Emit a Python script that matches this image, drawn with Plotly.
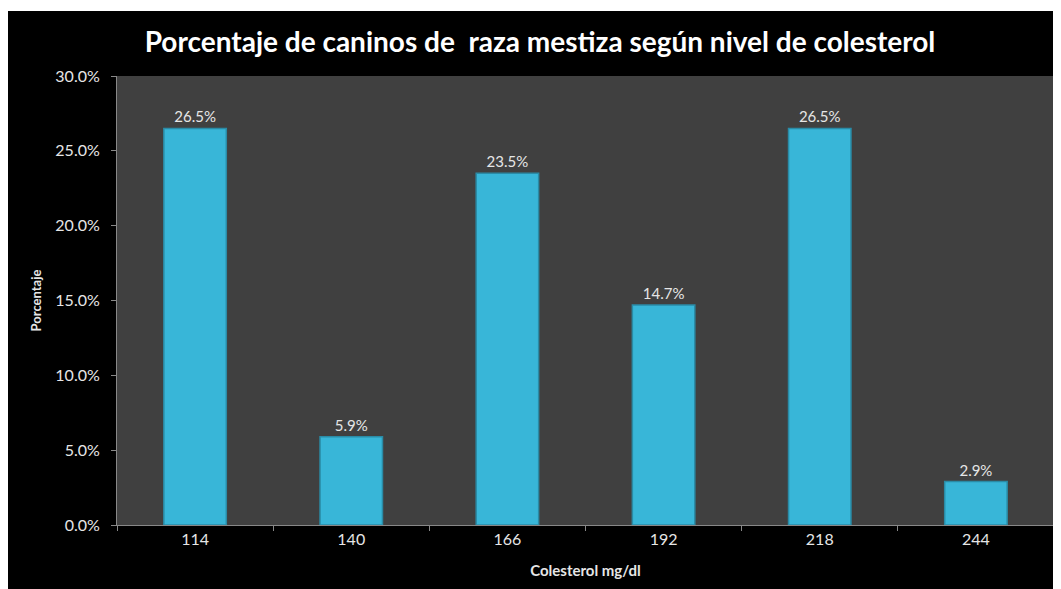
import plotly.graph_objects as go

categories = ["114", "140", "166", "192", "218", "244"]
values = [0.265, 0.059, 0.235, 0.147, 0.265, 0.029]
labels = ["26.5%", "5.9%", "23.5%", "14.7%", "26.5%", "2.9%"]
y_ticks = [0, 0.05, 0.10, 0.15, 0.20, 0.25, 0.30]

# page has an 8px body margin, so the figure is sized to fit the window
W, H = 1053, 581
L, R, T, B = 109, 7, 68, 64
pw, ph = W - L - R, H - T - B

fig = go.Figure()
fig.add_trace(go.Bar(
    x=categories, y=values, text=labels, textposition="outside",
    textfont=dict(color="#e6e6e6", size=15, family="Lato"),
    marker=dict(color="#38B6D8", line=dict(color="#2A8BA6", width=1.5)),
    width=0.4, cliponaxis=False,
))

fig.update_layout(
    width=W, height=H,
    margin=dict(l=L, r=R, t=T, b=B),
    paper_bgcolor="black",
    plot_bgcolor="#404040",
    showlegend=False,
    title=dict(
        text="<b>Porcentaje de caninos de&nbsp; raza mestiza según nivel de colesterol</b>",
        x=532 / W, xanchor="center", xref="container",
        y=1 - 34 / H, yanchor="middle", yref="container",
        font=dict(family="Lato", size=28, color="white"),
    ),
    xaxis=dict(
        type="category", tickson="boundaries", ticks="outside", ticklen=5,
        tickcolor="#888888", showline=True, linecolor="#888888", linewidth=1,
        showgrid=False, tickfont=dict(family="Lato", size=16, color="#e6e6e6"),
        title=dict(text="<b>Colesterol mg/dl</b>", font=dict(family="Lato", size=15, color="#e6e6e6"), standoff=18),
    ),
    yaxis=dict(
        range=[0, 0.30], tickvals=y_ticks, tickformat=".1%", ticks="outside", ticklen=5,
        tickcolor="#888888", showline=True, linecolor="#888888", linewidth=1,
        showgrid=False, zeroline=False, ticklabelstandoff=8,
        tickfont=dict(family="Lato", size=16, color="#e6e6e6"),
        title=dict(text="<b>Porcentaje</b>", font=dict(family="Lato", size=13, color="#e6e6e6"), standoff=10),
    ),
)

# thin white strip at the top of the figure
fig.add_shape(type="rect", xref="paper", yref="paper",
              x0=-L / pw - 0.01, x1=(W - L) / pw + 0.01, y0=(H - B - 3) / ph, y1=(H - B) / ph + 0.01,
              fillcolor="white", line=dict(width=0), layer="above")

fig.write_html("out.html")
